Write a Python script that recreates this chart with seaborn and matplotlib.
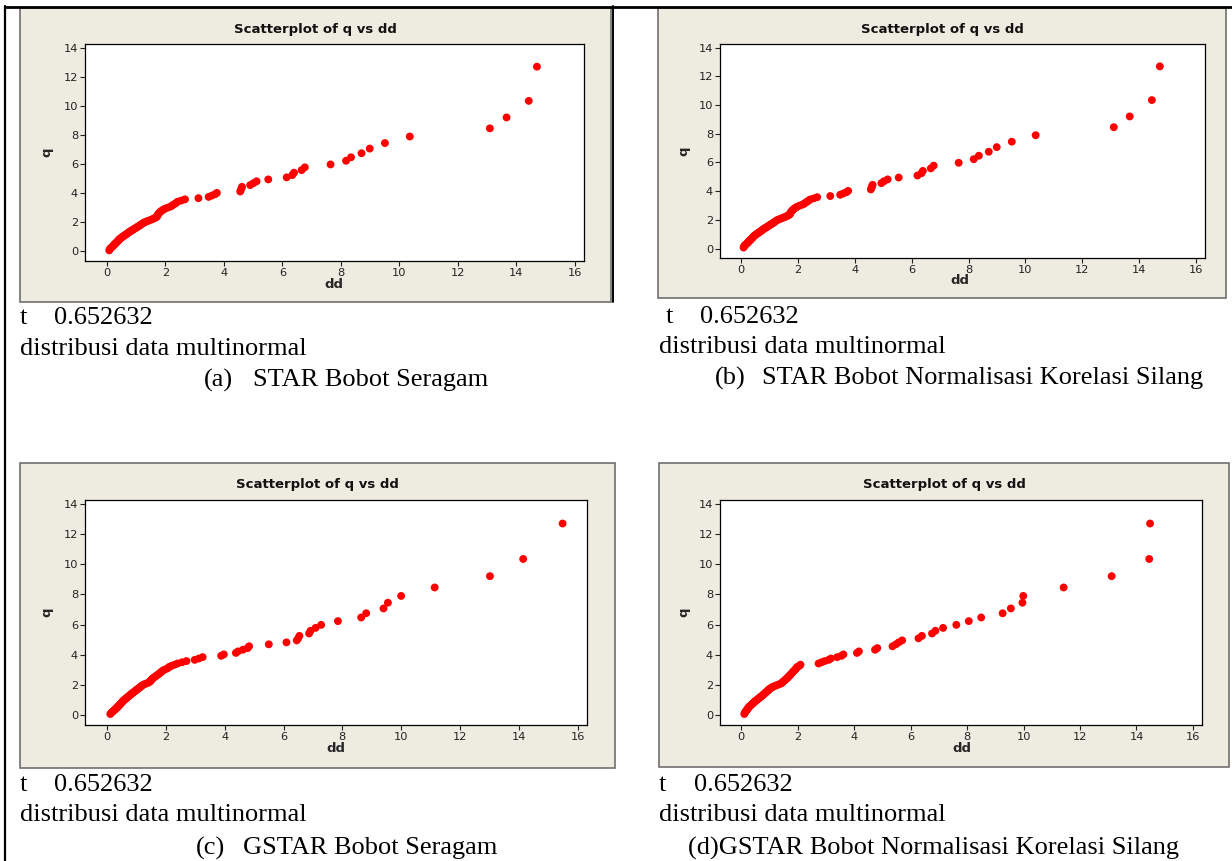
import matplotlib
matplotlib.use("Agg")
import matplotlib.pyplot as plt
import seaborn as sns
import pandas as pd
from matplotlib.patches import Rectangle
from matplotlib.lines import Line2D

# chi-square quantiles (same for all four panels)
q = [0.07, 0.16, 0.22, 0.28, 0.34, 0.39, 0.44, 0.49, 0.54, 0.58,
     0.63, 0.68, 0.73, 0.77, 0.82, 0.86, 0.91, 0.95, 1.00, 1.04,
     1.09, 1.13, 1.18, 1.22, 1.26, 1.31, 1.35, 1.40, 1.44, 1.49,
     1.53, 1.58, 1.63, 1.67, 1.72, 1.77, 1.81, 1.86, 1.91, 1.96,
     2.01, 2.06, 2.11, 2.17, 2.22, 2.27, 2.32, 2.37, 2.43, 2.49,
     2.55, 2.61, 2.67, 2.73, 2.79, 2.86, 2.92, 2.99, 3.06, 3.12,
     3.20, 3.27, 3.34, 3.42, 3.50, 3.58, 3.66, 3.75, 3.84, 3.93,
     4.02, 4.12, 4.22, 4.33, 4.44, 4.56, 4.69, 4.82, 4.95, 5.09,
     5.25, 5.41, 5.59, 5.78, 5.98, 6.23, 6.47, 6.75, 7.07, 7.45,
     7.90, 8.46, 9.21, 10.35, 12.70]

# (a) STAR Bobot Seragam
dd_a = [0.08, 0.10, 0.12, 0.16, 0.19, 0.22, 0.24, 0.26, 0.28, 0.31,
        0.33, 0.36, 0.38, 0.40, 0.42, 0.44, 0.47, 0.50, 0.53, 0.56,
        0.60, 0.62, 0.66, 0.69, 0.71, 0.75, 0.78, 0.81, 0.85, 0.89,
        0.92, 0.96, 1.00, 1.03, 1.07, 1.11, 1.14, 1.17, 1.21, 1.25,
        1.29, 1.36, 1.42, 1.50, 1.56, 1.61, 1.66, 1.70, 1.72, 1.73,
        1.75, 1.77, 1.80, 1.83, 1.87, 1.92, 1.97, 2.05, 2.15, 2.21,
        2.26, 2.32, 2.37, 2.42, 2.55, 2.67, 3.13, 3.48, 3.59, 3.70,
        3.76, 4.56, 4.58, 4.60, 4.62, 4.90, 5.01, 5.12, 5.52, 6.15,
        6.34, 6.40, 6.66, 6.77, 7.65, 8.18, 8.35, 8.71, 8.99, 9.51,
        10.36, 13.10, 13.67, 14.43, 14.71]

# (b) STAR Bobot Normalisasi Korelasi Silang
dd_b = [0.08, 0.10, 0.12, 0.16, 0.19, 0.22, 0.24, 0.26, 0.28, 0.31,
        0.33, 0.36, 0.38, 0.40, 0.42, 0.44, 0.47, 0.50, 0.53, 0.56,
        0.60, 0.62, 0.66, 0.69, 0.71, 0.75, 0.78, 0.81, 0.85, 0.89,
        0.92, 0.96, 1.00, 1.03, 1.07, 1.11, 1.14, 1.17, 1.21, 1.25,
        1.29, 1.36, 1.42, 1.50, 1.56, 1.61, 1.66, 1.70, 1.72, 1.73,
        1.75, 1.77, 1.80, 1.83, 1.87, 1.92, 1.97, 2.05, 2.15, 2.21,
        2.26, 2.32, 2.37, 2.42, 2.55, 2.67, 3.13, 3.48, 3.59, 3.70,
        3.76, 4.56, 4.58, 4.60, 4.62, 4.93, 5.02, 5.15, 5.54, 6.20,
        6.34, 6.39, 6.67, 6.77, 7.65, 8.18, 8.36, 8.71, 8.99, 9.52,
        10.36, 13.11, 13.67, 14.45, 14.73]

# (c) GSTAR Bobot Seragam
dd_c = [0.11, 0.15, 0.18, 0.22, 0.25, 0.28, 0.31, 0.33, 0.36, 0.38,
        0.40, 0.43, 0.45, 0.47, 0.49, 0.51, 0.53, 0.56, 0.58, 0.61,
        0.64, 0.66, 0.69, 0.72, 0.74, 0.77, 0.80, 0.83, 0.85, 0.89,
        0.91, 0.95, 0.98, 1.00, 1.04, 1.07, 1.10, 1.13, 1.16, 1.19,
        1.23, 1.29, 1.36, 1.42, 1.46, 1.48, 1.50, 1.52, 1.55, 1.59,
        1.64, 1.68, 1.72, 1.76, 1.80, 1.84, 1.88, 1.93, 2.02, 2.07,
        2.12, 2.20, 2.30, 2.40, 2.55, 2.70, 2.98, 3.12, 3.25, 3.88,
        3.97, 4.38, 4.45, 4.62, 4.78, 4.83, 5.50, 6.10, 6.45, 6.50,
        6.54, 6.87, 6.92, 7.09, 7.28, 7.85, 8.64, 8.81, 9.40, 9.55,
        10.00, 11.14, 13.02, 14.15, 15.49]

# (d) GSTAR Bobot Normalisasi Korelasi Silang
dd_d = [0.11, 0.13, 0.15, 0.18, 0.20, 0.22, 0.24, 0.26, 0.28, 0.30,
        0.33, 0.36, 0.39, 0.41, 0.44, 0.46, 0.49, 0.52, 0.55, 0.58,
        0.61, 0.64, 0.67, 0.70, 0.73, 0.76, 0.78, 0.81, 0.84, 0.86,
        0.89, 0.92, 0.95, 0.97, 1.00, 1.03, 1.07, 1.11, 1.17, 1.24,
        1.30, 1.37, 1.43, 1.46, 1.49, 1.52, 1.55, 1.58, 1.62, 1.65,
        1.68, 1.71, 1.74, 1.77, 1.80, 1.83, 1.86, 1.90, 1.93, 1.96,
        1.99, 2.07, 2.10, 2.74, 2.85, 2.96, 3.10, 3.18, 3.40, 3.55,
        3.62, 4.10, 4.17, 4.74, 4.82, 5.36, 5.48, 5.58, 5.70, 6.28,
        6.40, 6.76, 6.88, 7.15, 7.62, 8.06, 8.50, 9.26, 9.55, 9.96,
        9.99, 11.42, 13.12, 14.45, 14.48]

panel_names = ["(a)", "(b)", "(c)", "(d)"]
captions = ["STAR Bobot Seragam", "STAR Bobot Normalisasi Korelasi Silang",
            "GSTAR Bobot Seragam", "GSTAR Bobot Normalisasi Korelasi Silang"]
t_value = "0.652632"
note = "distribusi data multinormal"
title = "Scatterplot of q vs dd"

sns.set_style("white")
plt.rcParams['font.family'] = ['DejaVu Sans']

W, H = 1232, 861
fig = plt.figure(figsize=(W / 100, H / 100), dpi=100)
fig.patch.set_facecolor("white")


def fx(x):
    return x / W


def fy(y):
    return 1 - y / H


# table borders
fig.add_artist(Line2D([fx(5), fx(5)], [fy(6), fy(861)], color="black", lw=1.6))
fig.add_artist(Line2D([fx(5), fx(1232)], [fy(7), fy(7)], color="black", lw=2.0))
fig.add_artist(Line2D([fx(612.5), fx(612.5)], [fy(6), fy(302)], color="black", lw=1.4))

# panel layout: frame box, plot box (pixel coords, top-left origin), text positions
layout = [
    dict(frame=(20, 8, 611, 302), plot=(85, 44, 584, 261), title_y=29,
         tx=20, nx=54, ty=318, dy=349, cx=204, sx=253, cy=380),
    dict(frame=(658, 8, 1226, 298), plot=(720, 44, 1205, 258), title_y=29,
         tx=666, nx=700, ty=317, dy=347, cx=715, sx=762, cy=378),
    dict(frame=(20, 463, 615, 768), plot=(85, 500, 587, 725), title_y=484,
         tx=20, nx=54, ty=785, dy=815, cx=196, sx=243, cy=848),
    dict(frame=(659, 463, 1229, 767), plot=(720, 500, 1202, 725), title_y=484,
         tx=659, nx=694, ty=785, dy=815, cx=688, sx=None, cy=848),
]

beige = "#EEEBE1"
series = [dd_a, dd_b, dd_c, dd_d]

for i, (lay, dd) in enumerate(zip(layout, series)):
    x0, y0, x1, y1 = lay["frame"]
    fig.add_artist(Rectangle((fx(x0), fy(y1)), fx(x1 - x0), (y1 - y0) / H,
                             transform=fig.transFigure, facecolor=beige,
                             edgecolor="#6F6F6F", lw=1.2, zorder=0))
    fig.text(fx((x0 + x1) / 2), fy(lay["title_y"]), title, ha="center", va="center",
             fontsize=9.5, fontweight="bold", color="#111111")

    px0, py0, px1, py1 = lay["plot"]
    ax = fig.add_axes([fx(px0), fy(py1), fx(px1 - px0), (py1 - py0) / H])
    ax.set_facecolor("white")
    df = pd.DataFrame({"dd": dd, "q": q})
    sns.scatterplot(data=df, x="dd", y="q", ax=ax, color="#FF0000", s=32,
                    edgecolor="none", linewidth=0)
    ax.set_xlim(-0.75, 16.32)
    ax.set_ylim(-0.66, 14.26)
    ax.set_xticks(range(0, 17, 2))
    ax.set_yticks(range(0, 15, 2))
    ax.tick_params(direction="out", length=3.5, width=0.8, labelsize=8.2,
                   colors="#222222", pad=1.5, bottom=True, left=True)
    for sp in ax.spines.values():
        sp.set_color("black")
        sp.set_linewidth(0.9)
    ax.set_xlabel("dd", fontsize=9.5, fontweight="bold")
    ax.set_ylabel("q", fontsize=9.5, fontweight="bold")
    ax.xaxis.label.set_va("center")
    ax.yaxis.label.set_va("center")
    ax.xaxis.set_label_coords(((x0 + x1) / 2 - px0 + 18) / (px1 - px0), -23 / (py1 - py0))
    ax.yaxis.set_label_coords((47 - 85) / (px1 - px0) if i % 2 == 0 else (49 - 85) / (px1 - px0), 0.5)

    serif = dict(family="Liberation Serif", fontsize=19, color="black", va="center")
    fig.text(fx(lay["tx"]), fy(lay["ty"]), "t", ha="left", **serif)
    fig.text(fx(lay["nx"]), fy(lay["ty"]), t_value, ha="left", **serif)
    fig.text(fx(lay["tx"] if i % 2 == 0 else 659), fy(lay["dy"]), note, ha="left", **serif)
    if lay["sx"] is not None:
        fig.text(fx(lay["cx"]), fy(lay["cy"]), panel_names[i], ha="left", **serif)
        fig.text(fx(lay["sx"]), fy(lay["cy"]), captions[i], ha="left", **serif)
    else:
        fig.text(fx(lay["cx"]), fy(lay["cy"]), panel_names[i] + captions[i], ha="left", **serif)

fig.savefig("out.png", dpi=100, facecolor="white")
